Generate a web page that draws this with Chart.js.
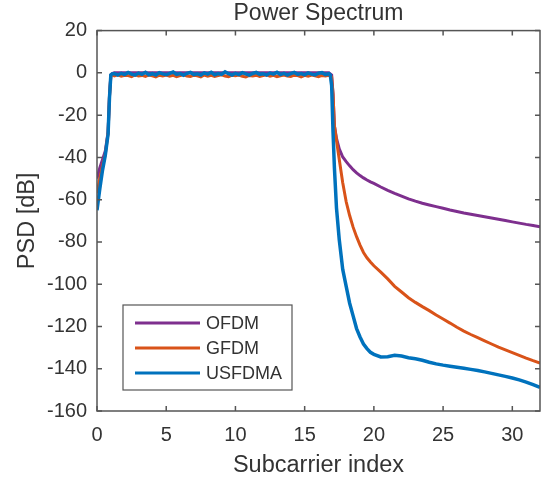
<!DOCTYPE html>
<html>
<head>
<meta charset="utf-8">
<script src="https://cdn.jsdelivr.net/npm/chart.js@4.4.1/dist/chart.umd.min.js"></script>
<style>
  html, body { margin: 0; padding: 0; background: #fff; }
  #wrap { width: 541px; height: 483px; }
</style>
</head>
<body>
<div id="wrap"><canvas id="psd-chart"></canvas></div>
<script>
// DATA

const subcarrierIndex = [
    // rising edge
    0, 0.2, 0.4, 0.6, 0.8, 0.9, 1.0, 1.1,
    // flat band
    1.25, 1.5, 1.75, 2,
    2.25, 2.5, 2.75, 3,
    3.25, 3.5, 3.75, 4,
    4.25, 4.5, 4.75, 5,
    5.25, 5.5, 5.75, 6,
    6.25, 6.5, 6.75, 7,
    7.25, 7.5, 7.75, 8,
    8.25, 8.5, 8.75, 9,
    9.25, 9.5, 9.75, 10,
    10.25, 10.5, 10.75, 11,
    11.25, 11.5, 11.75, 12,
    12.25, 12.5, 12.75, 13,
    13.25, 13.5, 13.75, 14,
    14.25, 14.5, 14.75, 15,
    15.25, 15.5, 15.75, 16,
    16.25, 16.5, 16.75,
    // falling edge
    16.85, 16.95, 17.05, 17.15, 17.3, 17.5, 17.75, 18,
    18.25, 18.5, 18.75, 19, 19.25, 19.5, 19.75,
    // out of band
    20, 20.5, 21, 21.5, 22, 22.5, 23, 23.5, 24, 24.5,
    25, 25.5, 26, 26.5, 27, 27.5, 28, 28.5, 29, 29.5,
    30, 30.5, 31, 31.5, 32
];

const psdOfdm = [
    -50, -45, -41, -37, -28, -11, -1, -0.3,
    0, 0, 0, 0,
    0, 0, 0, 0,
    0, 0, 0, 0,
    0, 0, 0, 0,
    0, 0, 0, 0,
    0, 0, 0, 0,
    0, 0, 0, 0,
    0, 0, 0, 0,
    0, 0, 0, 0,
    0, 0, 0, 0,
    0, 0, 0, 0,
    0, 0, 0, 0,
    0, 0, 0, 0,
    0, 0, 0, 0,
    0, 0, 0, 0,
    0, 0, 0,
    -0.5, -1, -10, -25, -31, -36, -39.8, -42,
    -44, -45.8, -47.3, -48.6, -49.7, -50.7, -51.6,
    -52.3, -54, -55.6, -57, -58.3, -59.6, -60.7, -61.7, -62.5, -63.3,
    -64.1, -64.9, -65.6, -66.3, -66.9, -67.5, -68.1, -68.7, -69.3, -69.9,
    -70.5, -71.1, -71.7, -72.2, -72.8
];

const psdGfdm = [
    -57, -50, -44, -38.5, -28.5, -11.5, -1.5, -1,
    -1.4, -0.9, -1.6, -1.1,
    -1.3, -1.8, -0.9, -1.5,
    -1.2, -1.7, -1.0, -1.4,
    -1.9, -1.1, -1.5, -1.0,
    -1.6, -1.2, -1.8, -1.3,
    -0.9, -1.5, -1.7, -1.1,
    -1.4, -1.9, -1.0, -1.6,
    -1.2, -1.7, -1.3, -0.9,
    -1.5, -1.8, -1.1, -1.4,
    -1.0, -1.6, -1.9, -1.2,
    -1.5, -1.1, -1.7, -1.3,
    -0.9, -1.6, -1.2, -1.8,
    -1.4, -1.0, -1.5, -1.7,
    -1.1, -1.3, -1.9, -1.2,
    -1.6, -1.0, -1.4, -1.8,
    -1.2, -1.5, -1.1,
    -1.5, -2, -10, -25, -32, -41, -52, -61,
    -67.5, -73, -77.5, -81.5, -85, -87.5, -89.5,
    -91.3, -94.3, -97.5, -101, -103.7, -106.4, -108.6, -110.6, -112.5, -114.6,
    -116.5, -118.4, -120.4, -122.2, -123.8, -125.3, -126.8, -128.3, -129.8, -131.1,
    -132.4, -133.7, -135, -136.2, -137.3
];

const psdUsfdma = [
    -65, -55, -46, -39, -29, -12, -1, -0.5,
    -0.3, -1.0, -0.2, -0.8,
    0.2, -0.6, -1.1, -0.1,
    -0.7, 0.3, -0.9, -0.4,
    -1.0, 0.1, -0.5, -0.9,
    -0.2, 0.4, -0.7, -0.3,
    -1.1, -0.2, 0.2, -0.8,
    -0.4, -1.0, 0.0, -0.6,
    0.3, -0.9, -0.3, -0.7,
    0.5, -0.4, -1.0, -0.2,
    -0.8, 0.1, -0.5, -1.1,
    -0.3, 0.2, -0.7, -0.4,
    -1.0, -0.1, -0.6, 0.3,
    -0.8, -0.2, -1.0, -0.4,
    0.2, -0.7, -0.3, -0.9,
    0.0, -0.6, -1.0, -0.2,
    0.1, -0.8, -0.4,
    -1, -6, -28, -45, -64, -79, -93, -101,
    -109, -115, -121, -125, -128.3, -130.5, -132.2,
    -133.2, -134.4, -134.3, -133.6, -134, -134.8, -135.3, -136, -136.9, -137.7,
    -138.3, -138.8, -139.3, -139.8, -140.3, -140.8, -141.5, -142.2, -142.9, -143.6,
    -144.4, -145.3, -146.3, -147.5, -148.8
];

const xTicks = [0, 5, 10, 15, 20, 25, 30];
const yTicks = [20, 0, -20, -40, -60, -80, -100, -120, -140, -160];

const seriesNames = ['OFDM', 'GFDM', 'USFDMA'];
const seriesColors = ['#7E2F8E', '#D95319', '#0072BD'];

// HELPERS

const axisColor = '#555';
const textColor = '#333';
const fontFamily = '"Liberation Sans", Arial, Helvetica, sans-serif';

function toPoints(ys) {
    return subcarrierIndex.map((x, i) => ({ x: x, y: ys[i] }));
}

// frame with inward tick marks, like a matlab axes box
const framePlugin = {
    id: 'frame',
    afterDatasetsDraw(chart) {
        const ctx = chart.ctx;
        const area = chart.chartArea;
        const xs = chart.scales.x;
        const ys = chart.scales.y;
        const len = 5;
        ctx.save();
        ctx.strokeStyle = axisColor;
        ctx.lineWidth = 1.5;
        ctx.strokeRect(area.left, area.top, area.right - area.left, area.bottom - area.top);
        ctx.beginPath();
        xs.ticks.forEach(t => {
            const px = xs.getPixelForValue(t.value);
            ctx.moveTo(px, area.bottom);
            ctx.lineTo(px, area.bottom - len);
            ctx.moveTo(px, area.top);
            ctx.lineTo(px, area.top + len);
        });
        ys.ticks.forEach(t => {
            const py = ys.getPixelForValue(t.value);
            ctx.moveTo(area.left, py);
            ctx.lineTo(area.left + len, py);
            ctx.moveTo(area.right, py);
            ctx.lineTo(area.right - len, py);
        });
        ctx.stroke();

        // LEGEND (drawn inside the axes, lower left)
        const boxX = area.left + 26;
        const boxY = area.bottom - 106;
        const boxW = 169;
        const boxH = 85;
        ctx.fillStyle = '#fff';
        ctx.fillRect(boxX, boxY, boxW, boxH);
        ctx.lineWidth = 1.2;
        ctx.strokeRect(boxX, boxY, boxW, boxH);
        ctx.font = '18px ' + fontFamily;
        ctx.textBaseline = 'middle';
        ctx.textAlign = 'left';
        seriesNames.forEach((name, i) => {
            const rowY = boxY + 18 + i * 25;
            ctx.strokeStyle = seriesColors[i];
            ctx.lineWidth = 3;
            ctx.beginPath();
            ctx.moveTo(boxX + 12, rowY);
            ctx.lineTo(boxX + 77, rowY);
            ctx.stroke();
            ctx.fillStyle = textColor;
            ctx.fillText(name, boxX + 83, rowY + 1);
        });
        ctx.restore();
    }
};

// CHART

const psdData = {
    datasets: seriesNames.map((name, i) => ({
        label: name,
        data: toPoints([psdOfdm, psdGfdm, psdUsfdma][i]),
        borderColor: seriesColors[i],
        backgroundColor: seriesColors[i],
        borderWidth: i === 2 ? 3.5 : 3,
        pointRadius: 0,
        showLine: true,
        fill: false,
        tension: 0,
        order: 3 - i
    }))
};

const psdOptions = {
    responsive: false,
    animation: false,
    layout: {
        padding: { left: 0, right: 1, top: 0, bottom: 0 }
    },
    scales: {
        x: {
            type: 'linear',
            min: 0,
            max: 32,
            afterBuildTicks: (scale) => {
                scale.ticks = xTicks.map(v => ({ value: v }));
            },
            afterFit: (scale) => { scale.height = 72; },
            grid: { display: false, drawTicks: false, tickLength: 0 },
            border: { display: false },
            ticks: {
                color: textColor,
                padding: 12,
                maxRotation: 0,
                font: { family: fontFamily, size: 20 }
            },
            title: {
                display: true,
                text: 'Subcarrier index',
                color: textColor,
                padding: { top: 0, bottom: 3 },
                font: { family: fontFamily, size: 23.5 }
            }
        },
        y: {
            type: 'linear',
            min: -160,
            max: 20,
            afterBuildTicks: (scale) => {
                scale.ticks = yTicks.map(v => ({ value: v }));
            },
            afterFit: (scale) => { scale.width = 97; },
            grid: { display: false, drawTicks: false, tickLength: 0 },
            border: { display: false },
            ticks: {
                color: textColor,
                padding: 10,
                font: { family: fontFamily, size: 20 }
            },
            title: {
                display: true,
                text: 'PSD [dB]',
                color: textColor,
                padding: { top: 13, bottom: 0 },
                font: { family: fontFamily, size: 23.5 }
            }
        }
    },
    plugins: {
        legend: { display: false },
        tooltip: { enabled: false },
        title: {
            display: true,
            text: 'Power Spectrum',
            fullSize: false,
            color: textColor,
            padding: { top: 0, bottom: 3 },
            font: { family: fontFamily, size: 23, weight: 'normal' }
        }
    }
};

const canvas = document.getElementById('psd-chart');
canvas.width = 541;
canvas.height = 483;

new Chart(canvas, {
    type: 'scatter',
    data: psdData,
    options: psdOptions,
    plugins: [framePlugin]
});
</script>
</body>
</html>
